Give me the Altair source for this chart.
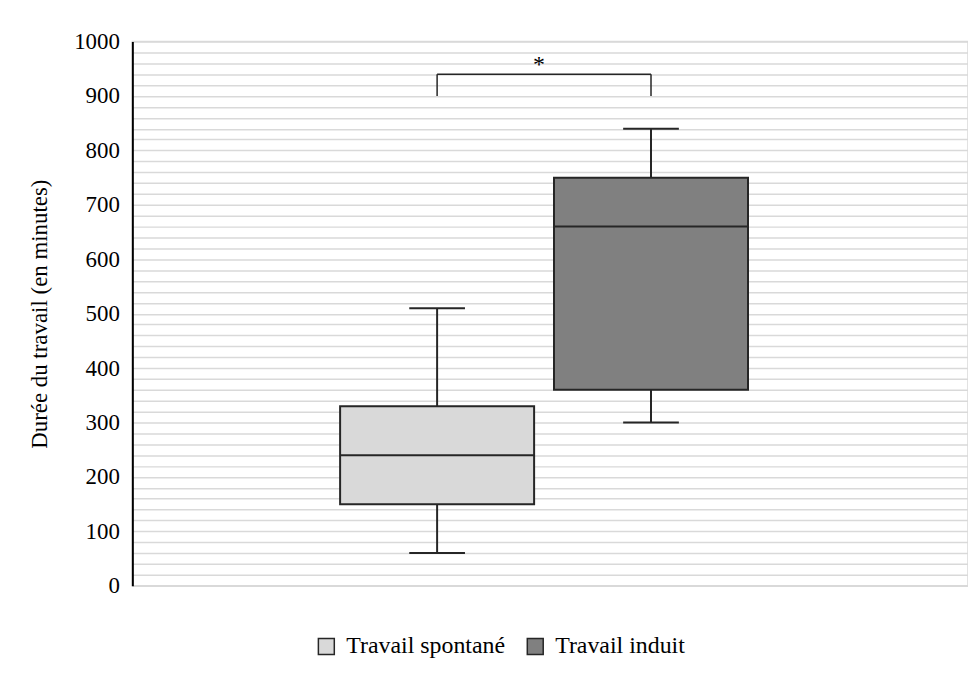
import altair as alt
import pandas as pd

# ---- data ----
series = ["Travail spontané", "Travail induit"]
low = [60, 300]
q1 = [150, 360]
median = [240, 660]
q3 = [330, 750]
high = [510, 840]
colors = ["#D9D9D9", "#808080"]

bracket_low = 900
bracket_high = 940
star_y = 957
star_text = "*"

df = pd.DataFrame({
    "cat": ["g"] * 2,
    "series": series,
    "low": low, "q1": q1, "median": median, "q3": q3, "high": high,
})
br_legs = pd.DataFrame({"cat": ["g"] * 2, "series": series,
                        "y1": [bracket_low] * 2, "y2": [bracket_high] * 2})
br_top = pd.DataFrame({"cat": ["g"] * 2, "series": series, "y": [bracket_high] * 2})
star = pd.DataFrame({"cat": ["g"], "y": [star_y], "t": [star_text]})

FONT = "'Liberation Serif', 'Times New Roman', Times, serif"
DARK = "#262626"
FS = 23

x = alt.X("cat:N", axis=None,
          scale=alt.Scale(paddingInner=0, paddingOuter=0.4767, align=0.485))
xo = alt.XOffset("series:N", sort=series,
                 scale=alt.Scale(paddingInner=0.093, paddingOuter=0.0465))
yscale = alt.Scale(domain=[0, 1000], nice=False)

grid_vals = list(range(0, 1001, 20))

yaxis = alt.Axis(
    values=grid_vals,
    format="d",
    labelExpr="datum.value % 100 == 0 ? datum.label : ''",
    title="Durée du travail (en minutes)",
    ticks=False, grid=True, gridColor="#D9D9D9", gridWidth=1.5,
    domain=True, domainColor="#000000", domainWidth=2,
    labelFont=FONT, labelFontSize=FS, labelColor="#000000", labelPadding=13,
    titleFont=FONT, titleFontSize=FS, titleFontWeight="normal",
    titleColor="#000000", titlePadding=22,
)


def Y(field):
    return alt.Y(field, scale=yscale, axis=yaxis, title="Durée du travail (en minutes)")


base = alt.Chart(df)

whisk_lo = base.mark_rule(color=DARK, strokeWidth=2).encode(
    x=x, xOffset=xo, y=Y("low:Q"), y2="q1:Q")
whisk_hi = base.mark_rule(color=DARK, strokeWidth=2).encode(
    x=x, xOffset=xo, y=Y("q3:Q"), y2="high:Q")

box = base.mark_bar(stroke=DARK, strokeWidth=2, opacity=1).encode(
    x=x, xOffset=xo,
    y=Y("q1:Q"), y2="q3:Q",
    color=alt.Color("series:N", sort=series,
                    scale=alt.Scale(domain=series, range=colors),
                    legend=alt.Legend(title=None, orient="none",
                                      legendX=183, legendY=596,
                                      direction="horizontal",
                                      symbolType="square", symbolSize=256,
                                      symbolStrokeColor=DARK, symbolStrokeWidth=1.5,
                                      symbolOpacity=1,
                                      labelFont=FONT, labelFontSize=FS + 1,
                                      labelColor="#000000", columnPadding=18,
                                      labelOffset=8)),
)

med = base.mark_tick(color=DARK, size=195, thickness=2, opacity=1).encode(
    x=x, xOffset=xo, y=Y("median:Q"))
cap_lo = base.mark_tick(color=DARK, size=56, thickness=2, opacity=1).encode(
    x=x, xOffset=xo, y=Y("low:Q"))
cap_hi = base.mark_tick(color=DARK, size=56, thickness=2, opacity=1).encode(
    x=x, xOffset=xo, y=Y("high:Q"))

legs = alt.Chart(br_legs).mark_rule(color=DARK, strokeWidth=1.5).encode(
    x=x, xOffset=xo, y=Y("y1:Q"), y2="y2:Q")
top = alt.Chart(br_top).mark_line(color=DARK, strokeWidth=1.5).encode(
    x=x, xOffset=xo, y=Y("y:Q"), detail="cat:N")
st = alt.Chart(star).mark_text(font=FONT, fontSize=FS + 1, color="#000000",
                               baseline="middle", dx=-5).encode(
    x=x, y=Y("y:Q"), text="t:N")

chart = alt.layer(whisk_lo, whisk_hi, box, med, cap_lo, cap_hi, legs, top, st).properties(
    width=840, height=547,
    autosize=alt.AutoSizeParams(type="none"),
    padding={"left": 125, "top": 32, "right": 0, "bottom": 100},
).configure_view(
    stroke="#D9D9D9", strokeWidth=1.5
)

chart.save("out.html", embed_options={"renderer": "svg", "actions": False})
